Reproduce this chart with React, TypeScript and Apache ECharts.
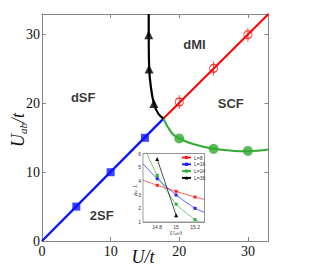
import React, { useEffect, useRef } from "react";
import * as echarts from "echarts";

// ---- main phase diagram data ----
const mainTicks = [0, 10, 20, 30];
const twoSFLine = [[0, 0], [17.7, 17.8]];
const twoSFMarks = [[5, 5], [10, 10], [15, 15]];
const scfLine = [[17.7, 17.8], [33, 33]];
const scfMarks = [[20, 20.2], [25, 25.1], [30, 30]];
const dsfLine = [[17.7, 17.8], [16.95, 18.5], [16.3, 20], [15.85, 22.5], [15.62, 25], [15.55, 30], [15.55, 33]];
const dsfMarks = [[16.3, 20], [15.6, 25], [15.55, 30]];
const scfLowLine = [[17.7, 17.8], [18.2, 16.8], [19, 15.6], [20, 14.9], [22, 14.1], [25, 13.4], [28, 13.1], [30, 13.05], [33, 13.3]];
const scfLowMarks = [[20, 14.9], [25, 13.4], [30, 13.1]];
const phaseNames = ["dSF", "dMI", "SCF", "2SF"];
const phaseX = [6, 22.2, 27.5, 8.7];
const phaseY = [20.9, 28.6, 20, 3.7];

// ---- inset data ----
const insetXTicks = [14.8, 15, 15.2];
const insetYTicks = [1, 2, 3, 4, 5, 6];
const sizeNames = ["L=8", "L=16", "L=24", "L=36"];
const sizeColors = ["#ff2020", "#2020ff", "#30b030", "#000000"];
const sizeSymbols = ["rect", "rect", "rect", "triangle"];
const l8Pts = [[14.8, 3.68], [15, 3.24], [15.2, 2.82]];
const l16Pts = [[14.8, 4.16], [15, 2.97], [15.2, 2.0]];
const l24Pts = [[14.8, 4.4], [15, 2.3], [15.2, 1.17]];
const l36Pts = [[14.8, 5.6], [15, 1.5]];
const l8Ends = [[14.65, 4.05], [15.3, 2.65]];
const l16Ends = [[14.65, 5.25], [15.3, 1.7]];
const l24Ends = [[14.69, 6.0], [15.25, 0.95]];
const sizePts = [l8Pts, l16Pts, l24Pts, l36Pts];
const sizeEnds = [l8Ends, l16Ends, l24Ends, null];

const errSymbol = "path://M0,7 A4,4 0 1,1 8,7 A4,4 0 1,1 0,7 Z M4,0 L4,14";

export default function App() {
  const ref = useRef<HTMLDivElement>(null);
  useEffect(() => {
    document.body.style.margin = "0";
    const chart = echarts.init(ref.current!, null, { renderer: "svg" });
    const gray = "#858585";
    const serif = "Liberation Serif";
    const mainAxisX = (pos: string, labels: boolean) => ({
      type: "value", gridIndex: 0, position: pos, min: 0, max: 33,
      axisLine: { show: true, onZero: false, lineStyle: { color: gray, width: 1 } },
      axisTick: { show: true, inside: true, length: 4, customValues: mainTicks, lineStyle: { color: gray } },
      axisLabel: { show: labels, customValues: mainTicks, margin: 3, color: "#111", fontSize: 14, fontFamily: serif },
      splitLine: { show: false },
    });
    const mainAxisY = (pos: string, labels: boolean) => ({
      type: "value", gridIndex: 0, position: pos, min: 0, max: 33,
      axisLine: { show: true, onZero: false, lineStyle: { color: gray, width: 1 } },
      axisTick: { show: true, inside: true, length: 4, customValues: mainTicks, lineStyle: { color: gray } },
      axisLabel: { show: labels, customValues: mainTicks, margin: 2, color: "#111", fontSize: 14, fontFamily: serif },
      splitLine: { show: false },
    });
    const insetAxisX = (pos: string, labels: boolean) => ({
      type: "value", gridIndex: 1, position: pos, min: 14.65, max: 15.3,
      axisLine: { show: true, onZero: false, lineStyle: { color: gray, width: 0.8 } },
      axisTick: { show: true, inside: true, length: 2, customValues: insetXTicks, lineStyle: { color: gray, width: 0.6 } },
      axisLabel: { show: labels, customValues: insetXTicks, margin: 2, color: "#333", fontSize: 5, fontFamily: "Liberation Sans" },
      splitLine: { show: false },
    });
    const insetAxisY = (pos: string, labels: boolean) => ({
      type: "value", gridIndex: 1, position: pos, min: 1, max: 6,
      axisLine: { show: true, onZero: false, lineStyle: { color: gray, width: 0.8 } },
      axisTick: { show: true, inside: true, length: 2, customValues: insetYTicks, lineStyle: { color: gray, width: 0.6 } },
      axisLabel: { show: labels, customValues: insetYTicks, margin: 2, color: "#333", fontSize: 5, fontFamily: "Liberation Sans" },
      splitLine: { show: false },
    });

    const insetSeries: any[] = sizeNames.map((name, i) => {
      const pts = sizePts[i];
      const ends = sizeEnds[i];
      const data: any[] = [];
      if (ends) data.push({ value: ends[0], symbol: "none" });
      pts.forEach((p) => data.push({ value: p }));
      if (ends) data.push({ value: ends[1], symbol: "none" });
      return {
        name, type: "line", xAxisIndex: 2, yAxisIndex: 2, data,
        smooth: 0.2, clip: true, z: 6,
        symbol: sizeSymbols[i], symbolSize: i === 3 ? 4 : 3,
        lineStyle: { color: sizeColors[i], width: 0.7 },
        itemStyle: { color: sizeColors[i] },
      };
    });

    chart.setOption({
      animation: false,
      backgroundColor: "#fff",
      grid: [
        { left: 42, top: 14, width: 226.5, height: 227, show: false },
        { left: 143, top: 153.5, width: 61.5, height: 68.5, show: true, backgroundColor: "#fff", borderColor: gray, borderWidth: 0.8, z: 5 },
      ],
      xAxis: [mainAxisX("bottom", true), mainAxisX("top", false), insetAxisX("bottom", true), insetAxisX("top", false)],
      yAxis: [mainAxisY("left", true), mainAxisY("right", false), insetAxisY("left", true), insetAxisY("right", false)],
      legend: {
        data: sizeNames, orient: "vertical", left: 181, top: 155, padding: 0,
        itemWidth: 9, itemHeight: 4, itemGap: 1.8,
        textStyle: { fontSize: 5, color: "#333", fontFamily: "Liberation Sans", padding: [0, 0, 0, -2] },
        z: 10,
      },
      series: [
        { type: "line", data: twoSFLine, symbol: "none", lineStyle: { color: "#0a14ff", width: 2.4 }, z: 2 },
        { type: "scatter", data: twoSFMarks, symbol: "rect", symbolSize: 8, itemStyle: { color: "#0a14ff" }, z: 3 },
        { type: "line", data: scfLine, symbol: "none", lineStyle: { color: "#ff0000", width: 2 }, z: 2 },
        { type: "scatter", data: scfMarks, symbol: errSymbol, symbolSize: [8, 14], itemStyle: { color: "none", borderColor: "#ff0000", borderWidth: 1.1 }, z: 3 },
        { type: "line", data: scfLowLine, symbol: "none", smooth: 0.4, lineStyle: { color: "#33aa33", width: 2 }, z: 2 },
        { type: "scatter", data: scfLowMarks, symbol: "circle", symbolSize: 10, itemStyle: { color: "#33aa33" }, z: 3 },
        { type: "line", data: dsfLine, symbol: "none", smooth: 0.4, lineStyle: { color: "#000", width: 2.2 }, z: 2 },
        { type: "scatter", data: dsfMarks, symbol: "triangle", symbolSize: 9, itemStyle: { color: "#000" }, z: 3 },
        {
          type: "scatter", symbolSize: 1, itemStyle: { color: "transparent" }, z: 4,
          data: phaseNames.map((n, i) => ({ name: n, value: [phaseX[i], phaseY[i]] })),
          label: { show: true, position: "inside", formatter: "{b}", color: "#000", fontWeight: "bold", fontSize: 13, fontFamily: "Liberation Sans" },
        },
        ...insetSeries,
      ],
      graphic: [
        {
          type: "text", x: 143, y: 257, z: 20,
          style: { text: "U/t", font: "italic 18px 'Liberation Serif'", fill: "#111", align: "center", verticalAlign: "middle" },
        },
        {
          type: "text", x: 18, y: 130, rotation: Math.PI / 2, z: 20,
          style: {
            text: "{i|U}{s|ab}{i|/t}", align: "center", verticalAlign: "middle", fill: "#111",
            rich: {
              i: { fontSize: 18, fontStyle: "italic", fontFamily: serif, lineHeight: 20, fill: "#111" },
              s: { fontSize: 11, fontStyle: "italic", fontFamily: serif, lineHeight: 20, verticalAlign: "bottom", fill: "#111" },
            },
          },
        },
        {
          type: "text", x: 176, y: 232, z: 20,
          style: {
            text: "{i|U}{s|ab}{i|/t}", align: "center", verticalAlign: "middle", fill: "#333",
            rich: {
              i: { fontSize: 6.5, fontStyle: "italic", fontFamily: serif, lineHeight: 7, fill: "#333" },
              s: { fontSize: 4, fontStyle: "italic", fontFamily: serif, lineHeight: 7, verticalAlign: "bottom", fill: "#333" },
            },
          },
        },
        {
          type: "text", x: 134, y: 190, rotation: Math.PI / 2, z: 20,
          style: {
            text: "{i|ρ}{s|sc}{i| L}", align: "center", verticalAlign: "middle", fill: "#333",
            rich: {
              i: { fontSize: 6.5, fontStyle: "italic", fontFamily: serif, lineHeight: 7, fill: "#333" },
              s: { fontSize: 4, fontStyle: "italic", fontFamily: serif, lineHeight: 7, verticalAlign: "bottom", fill: "#333" },
            },
          },
        },
      ],
    });
    return () => chart.dispose();
  }, []);
  return <div ref={ref} style={{ width: 329, height: 270 }} />;
}
